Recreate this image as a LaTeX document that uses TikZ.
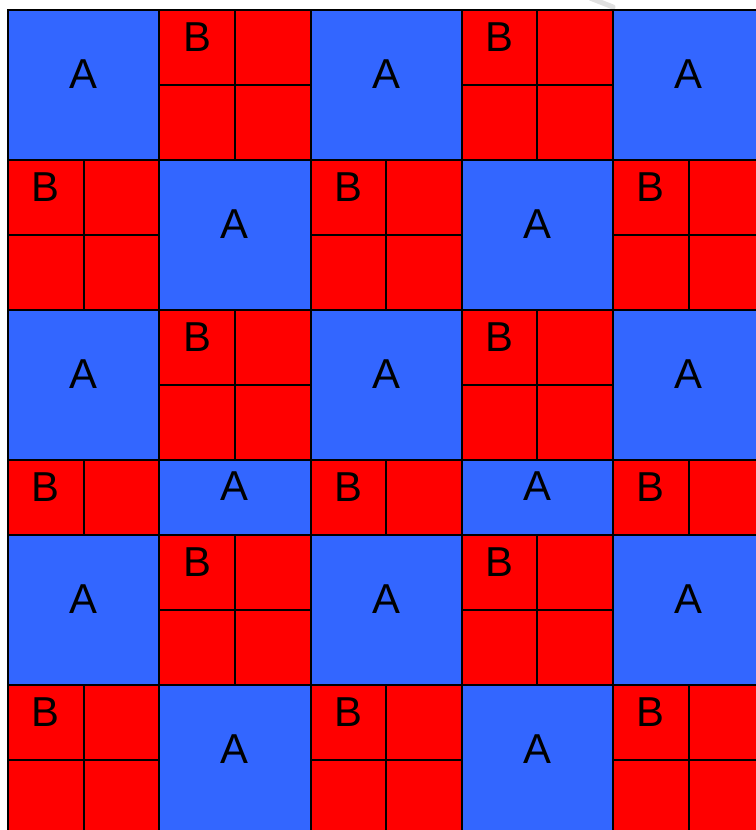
\documentclass[tikz,border=0pt]{standalone}
\usepackage{fontspec}
\setmainfont{Liberation Sans}
\usetikzlibrary{positioning}
\definecolor{cellblue}{RGB}{51,102,255}
\definecolor{cellred}{RGB}{255,0,0}

\begin{document}
\begin{tikzpicture}[
    x=1bp, y=-1bp,
    acell/.style={
        draw,
        line width=2bp,
        fill=cellblue,
        minimum width=151.25bp,
        minimum height=150bp,
        inner sep=0pt
    },
    quad/.style={
        draw,
        line width=2bp,
        fill=cellred,
        minimum width=75.625bp,
        minimum height=75bp,
        inner sep=0pt
    },
    lbl/.style={
        font=\fontsize{42}{48}\selectfont,
        inner sep=0pt
    }
]

% page frame
\useasboundingbox (0,0) rectangle (756,830);
\clip (0,0) rectangle (756,830);

% faint mark above the grid
\draw[black!12, line width=5bp, line cap=round] (590,-2) -- (613,7);

% rows: index / top / height / shift
\foreach \r/\top/\h/\s in {0/10/150/0, 1/160/150/1, 2/310/150/0,
                           3/460/75/1, 4/535/150/0, 5/685/150/1}{
    \foreach \c in {0,...,4}{
        \pgfmathsetmacro\lft{8+151.25*\c}
        \pgfmathtruncatemacro\kind{mod(\c+\s,2)}
        \ifnum\kind=0
            % A cell
            \node[acell, minimum height=\h bp] (a-\r-\c) at (\lft+75.625, \top+\h/2) {};
            \node[lbl] (ta-\r-\c) at ([yshift=11bp]a-\r-\c.center) {A};
        \else
            % B cell, split in quarters
            \pgfmathtruncatemacro\nq{\h/75-1}
            \foreach \qy in {0,...,\nq}{
                \foreach \qx in {0,1}{
                    \node[quad] (b-\r-\c-\qx\qy) at (\lft+37.8125+75.625*\qx, \top+37.5+75*\qy) {};
                }
            }
            \node[lbl] (tb-\r-\c) at ([yshift=10bp]b-\r-\c-00.center) {B};
        \fi
    }
}

\end{tikzpicture}
\end{document}
